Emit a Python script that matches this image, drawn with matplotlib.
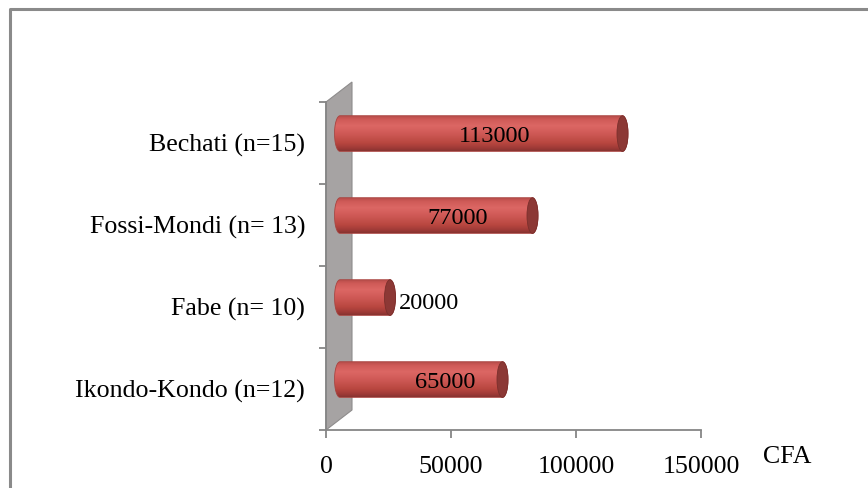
import numpy as np
import matplotlib
matplotlib.use("Agg")
import matplotlib.pyplot as plt
from matplotlib.patches import Polygon, Ellipse
from matplotlib.colors import LinearSegmentedColormap
from matplotlib.lines import Line2D

# ---- data ----
categories = ["Ikondo-Kondo (n=12)", "Fabe (n= 10)", "Fossi-Mondi (n= 13)", "Bechati (n=15)"]
values = [65000, 20000, 77000, 113000]
x_ticks = [0, 50000, 100000, 150000]
x_tick_labels = ["0", "50000", "100000", "150000"]
axis_title = "CFA"

FONT = "Liberation Serif"
W, H = 868, 488
fig = plt.figure(figsize=(W / 100, H / 100), dpi=100)
fig.patch.set_facecolor("white")

# axes placed in pixel geometry
x0_px, x1_px, ybot_px, ytop_px = 326, 701, 430, 102
ax = fig.add_axes([x0_px / W, (H - ybot_px) / H, (x1_px - x0_px) / W, (ybot_px - ytop_px) / H])
ax.set_facecolor("none")
xmin, xmax = 0, 150000
ymin, ymax = -0.5, len(categories) - 0.5
ax.set_xlim(xmin, xmax)
ax.set_ylim(ymin, ymax)

u_per_px_x = (xmax - xmin) / (x1_px - x0_px)
u_per_px_y = (ymax - ymin) / (ybot_px - ytop_px)

grey = "#868686"

# ---- back wall (3D side wall) ----
depth_dx, depth_dy = 26 * u_per_px_x, 20 * u_per_px_y
wall = Polygon([(0, ymin), (0, ymax), (depth_dx, ymax + depth_dy), (depth_dx, ymin + depth_dy)],
               closed=True, facecolor="#A6A3A3", edgecolor="#8E8C8C", lw=0.8,
               clip_on=False, zorder=1)
ax.add_patch(wall)

# ---- cylinders ----
cmap = LinearSegmentedColormap.from_list("cyl", [
    (0.0, "#B24A47"), (0.12, "#CF5A57"), (0.3, "#DC6764"), (0.5, "#D05A57"),
    (0.78, "#B8463F"), (0.92, "#9E3A37"), (1.0, "#873330")])
grad = np.linspace(0, 1, 256).reshape(-1, 1)

bar_x0 = 14 * u_per_px_x      # start of cylinder body (depth offset)
rx = 5.5 * u_per_px_x         # half-width of elliptical ends
bar_h = 0.435
bar_dy = 0.115                # upward depth offset

for i, v in enumerate(values):
    yc = i + bar_dy
    xs, xe = bar_x0, bar_x0 + v
    t1 = np.linspace(np.pi / 2, 3 * np.pi / 2, 40)
    t2 = np.linspace(-np.pi / 2, np.pi / 2, 40)
    left = np.column_stack([xs + rx * np.cos(t1), yc + bar_h / 2 * np.sin(t1)])
    right = np.column_stack([xe + rx * np.cos(t2), yc + bar_h / 2 * np.sin(t2)])
    verts = np.vstack([left, right])
    clip = Polygon(verts, closed=True, facecolor="none", edgecolor="none", transform=ax.transData)
    ax.add_patch(clip)
    im = ax.imshow(grad, cmap=cmap, aspect="auto", origin="upper",
                   extent=[xs - rx, xe + rx, yc - bar_h / 2, yc + bar_h / 2],
                   zorder=2, interpolation="bilinear")
    im.set_clip_path(clip)
    # outline
    ax.add_patch(Polygon(verts, closed=True, facecolor="none", edgecolor="#A9433F",
                         lw=0.6, zorder=3))
    # end cap
    ax.add_patch(Ellipse((xe, yc), 2 * rx, bar_h, facecolor="#8C3835",
                         edgecolor="#7A2F2C", lw=0.6, zorder=4))
    # data label
    if v >= 30000:
        lx = 0.4167 * v + 20500
        ax.text(lx, yc - 0.03, f"{v}", ha="center", va="center", fontsize=17.5,
                family=FONT, color="black", zorder=5)
    else:
        lx = xe + rx + 3 * u_per_px_x
        ax.text(lx, yc - 0.07, f"{v}", ha="left", va="center", fontsize=17.5,
                family=FONT, color="black", zorder=5)

ax.set_xlim(xmin, xmax)
ax.set_ylim(ymin, ymax)

# ---- axes styling ----
for s in ["top", "right"]:
    ax.spines[s].set_visible(False)
for s in ["left", "bottom"]:
    ax.spines[s].set_color(grey)
    ax.spines[s].set_linewidth(1.3)
    ax.spines[s].set_zorder(6)

ax.set_xticks(x_ticks)
ax.set_xticklabels(x_tick_labels, fontsize=18.6, family=FONT)
ax.tick_params(axis="x", direction="out", length=6, width=1.3, color=grey, pad=12.5)

ax.set_yticks(np.arange(ymin, ymax + 0.01, 1.0))
ax.set_yticklabels([])
ax.set_yticks(np.arange(len(categories)), minor=True)
ax.set_yticklabels(categories, minor=True, fontsize=18.6, family=FONT)
ax.tick_params(axis="y", which="major", direction="out", length=5, width=1.3, color=grey)
ax.tick_params(axis="y", which="minor", length=0, pad=15)

fig.text(763 / W, 1 - 457 / H, axis_title, ha="left", va="center", fontsize=18.6, family=FONT)

# ---- outer frame (top and left only visible) ----
fig.add_artist(Line2D([10 / W, 10 / W, 1.0], [0.0, 1 - 8.5 / H, 1 - 8.5 / H],
                      transform=fig.transFigure, color="#8A8A8A", lw=2.2))

fig.savefig("out.png", dpi=100, facecolor="white")
